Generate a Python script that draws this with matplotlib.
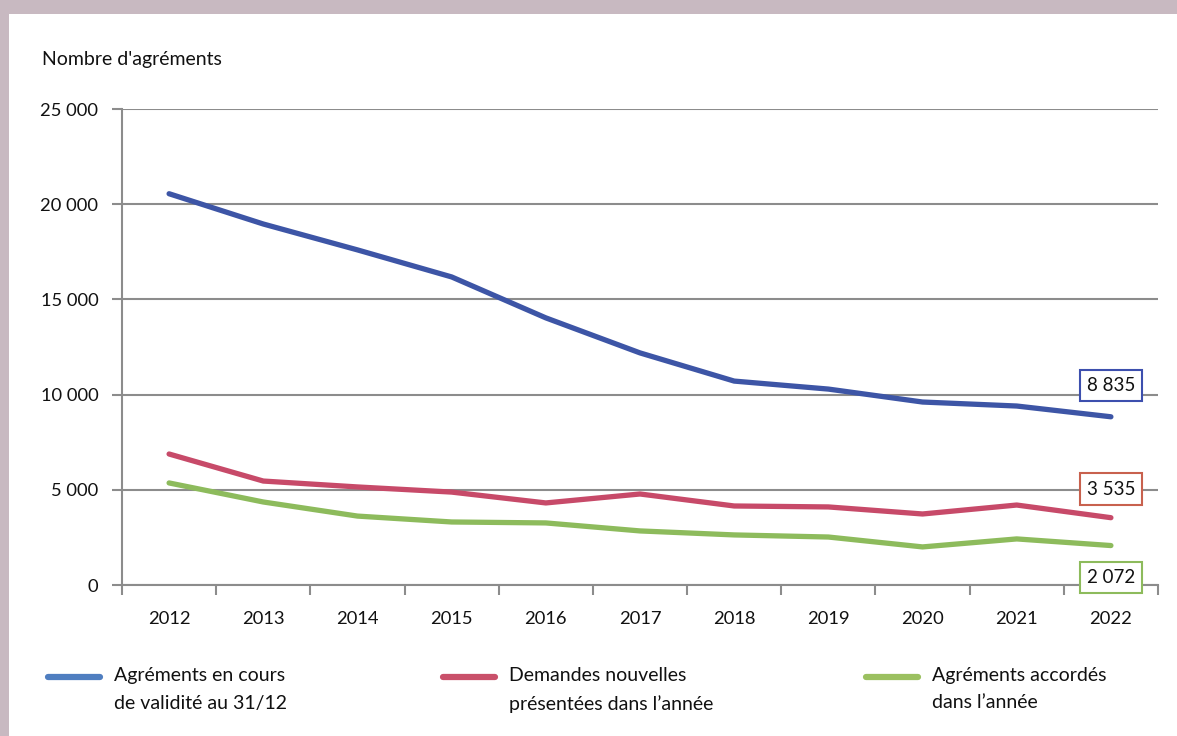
import matplotlib
matplotlib.use("Agg")
import matplotlib.pyplot as plt
from matplotlib.patches import Rectangle
from matplotlib.lines import Line2D
from matplotlib.ticker import FuncFormatter, MultipleLocator, FixedLocator

years = [2012, 2013, 2014, 2015, 2016, 2017, 2018, 2019, 2020, 2021, 2022]
en_cours = [20550, 18960, 17600, 16180, 14030, 12190, 10710, 10290, 9610, 9400, 8835]
demandes = [6880, 5460, 5150, 4880, 4310, 4780, 4150, 4100, 3730, 4200, 3535]
accordes = [5360, 4360, 3620, 3310, 3260, 2840, 2630, 2520, 2000, 2420, 2072]

series_labels = ["Agréments en cours\nde validité au 31/12",
                 "Demandes nouvelles\nprésentées dans l\u2019année",
                 "Agréments accordés\ndans l\u2019année"]
line_colors = ["#3D55A6", "#C74A69", "#8DBB5C"]
legend_colors = ["#4F7EC0", "#C9506A", "#9BC060"]
box_colors = ["#3D4FAE", "#C8614E", "#8DBB5C"]
y_title = "Nombre d'agréments"

W, H = 1177, 736
fig = plt.figure(figsize=(W / 100, H / 100), dpi=100)
fig.patch.set_facecolor("#C8B9C1")
fig.add_artist(Rectangle((9 / W, 0), 1 - 9 / W, 1 - 14 / H, transform=fig.transFigure,
                         facecolor="white", edgecolor="none", zorder=0))

font = "Lato"
ax = fig.add_axes([122 / W, 1 - 585 / H, (1158 - 122) / W, (585 - 109) / H])
ax.set_facecolor("none")
x = list(range(len(years)))
for vals, c in zip([en_cours, demandes, accordes], line_colors):
    ax.plot(x, vals, color=c, lw=3.8, solid_capstyle="round", solid_joinstyle="round", zorder=3)

ax.set_xlim(-0.5, len(years) - 0.5)
ax.set_ylim(0, 25000)
ax.yaxis.set_major_locator(MultipleLocator(5000))
ax.yaxis.set_major_formatter(FuncFormatter(lambda v, p: f"{int(v):,}".replace(",", " ")))
ax.grid(axis="y", color="#8C8C8C", lw=1.5, zorder=1)
ax.set_xticks(x)
ax.set_xticklabels([str(y) for y in years])
ax.xaxis.set_minor_locator(FixedLocator([i - 0.5 for i in range(len(years) + 1)]))
ax.tick_params(axis="x", which="major", length=0, pad=19)
ax.tick_params(axis="x", which="minor", length=7, width=1.5, color="#8C8C8C")
ax.tick_params(axis="y", length=7, width=1.5, color="#8C8C8C", pad=10)
for s in ["top", "right"]:
    ax.spines[s].set_visible(False)
for s in ["left", "bottom"]:
    ax.spines[s].set_color("#8C8C8C")
    ax.spines[s].set_linewidth(1.5)
for lab in ax.get_xticklabels() + ax.get_yticklabels():
    lab.set_fontfamily(font)
    lab.set_fontsize(13.2)
    lab.set_color("#111111")

fig.text(42 / W, 1 - 59 / H, y_title, fontsize=14, family=font, va="center", ha="left", color="#111111")

# end labels
label_y = [10480, 5040, 380]
for vals, yy, ec in zip([en_cours, demandes, accordes], label_y, box_colors):
    ax.text(x[-1], yy, f"{vals[-1]:,}".replace(",", " "), ha="center", va="center",
            fontsize=13.5, family=font, color="#111111", zorder=5,
            bbox=dict(boxstyle="square,pad=0.38", facecolor="white", edgecolor=ec, lw=1.5))

# legend
leg_x = [48, 443, 866]
for lx, c, lab in zip(leg_x, legend_colors, series_labels):
    fig.add_artist(Line2D([lx / W, (lx + 52) / W], [1 - 677 / H, 1 - 677 / H], transform=fig.transFigure,
                          color=c, lw=4.5, solid_capstyle="round"))
    fig.text((lx + 66) / W, 1 - 667 / H, lab, fontsize=14, family=font, va="top", ha="left",
             color="#111111", linespacing=1.75)

fig.savefig("out.png", dpi=100, facecolor=fig.get_facecolor())
